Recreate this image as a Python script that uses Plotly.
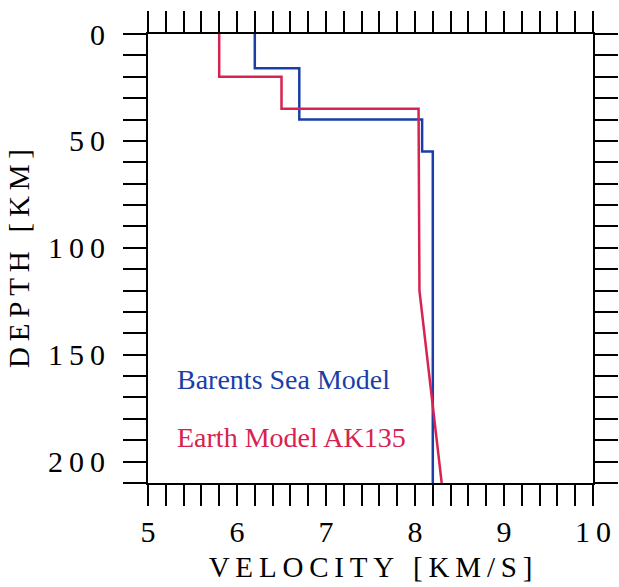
import numpy as np
import plotly.graph_objects as go

# P-wave velocity profiles (depth in km, velocity in km/s)
barents_depth = [0, 16, 16, 40, 40, 55, 55, 210]
barents_vp = [6.2, 6.2, 6.7, 6.7, 8.08, 8.08, 8.2, 8.2]

ak135_depth = [0, 20, 20, 35, 35, 77.5, 120, 165, 210]
ak135_vp = [5.8, 5.8, 6.5, 6.5, 8.04, 8.045, 8.05, 8.175, 8.30]

velocity_ticks = np.round(np.arange(5.0, 10.001, 0.2), 1)
depth_ticks = np.arange(0, 211, 10)

BLUE = "#1b3ea6"
RED = "#d8224f"
SERIF = "Liberation Serif, Times New Roman, serif"
THIN = "\u2009"


def spaced(s):
    return THIN.join(s)


vel_text = [spaced(str(int(v))) if abs(v - round(v)) < 1e-9 else "" for v in velocity_ticks]
depth_text = [spaced(str(int(d))) if d % 50 == 0 else "" for d in depth_ticks]

fig = go.Figure()
fig.add_trace(go.Scatter(x=barents_vp, y=barents_depth, mode="lines",
                         line=dict(color=BLUE, width=2.5), name="Barents Sea Model"))
fig.add_trace(go.Scatter(x=ak135_vp, y=ak135_depth, mode="lines",
                         line=dict(color=RED, width=2.5), name="Earth Model AK135"))

fig.add_annotation(x=5.3, y=161.5, xref="x", yref="y", text="Barents Sea Model",
                   showarrow=False, xanchor="left", yanchor="middle",
                   font=dict(family=SERIF, size=28, color=BLUE))
fig.add_annotation(x=5.3, y=188.5, xref="x", yref="y", text="Earth Model AK135",
                   showarrow=False, xanchor="left", yanchor="middle",
                   font=dict(family=SERIF, size=28, color=RED))

axis_common = dict(showgrid=False, zeroline=False, showline=True, linewidth=2,
                   linecolor="black", mirror="allticks", ticks="outside",
                   tickcolor="black", tickwidth=1.5, automargin=False,
                   tickfont=dict(family=SERIF, size=30, color="black"))

fig.update_xaxes(range=[5, 10], tickmode="array", tickvals=velocity_ticks,
                 ticktext=vel_text, ticklen=21, ticklabelstandoff=0,
                 title=dict(text=spaced("VELOCITY") + THIN + " " + THIN + spaced("[KM/S]"),
                            font=dict(family=SERIF, size=29, color="black"), standoff=10),
                 **axis_common)
fig.update_yaxes(range=[210, 0], tickmode="array", tickvals=depth_ticks,
                 ticktext=depth_text, ticklen=23, ticklabelstandoff=12,
                 title=dict(text=spaced("DEPTH") + THIN + " " + THIN + spaced("[KM]"),
                            font=dict(family=SERIF, size=29, color="black"), standoff=10),
                 **axis_common)

fig.update_layout(width=619, height=587, margin=dict(l=148, r=26, t=34, b=104),
                  paper_bgcolor="white", plot_bgcolor="white", showlegend=False)

fig.write_html("out.html")
